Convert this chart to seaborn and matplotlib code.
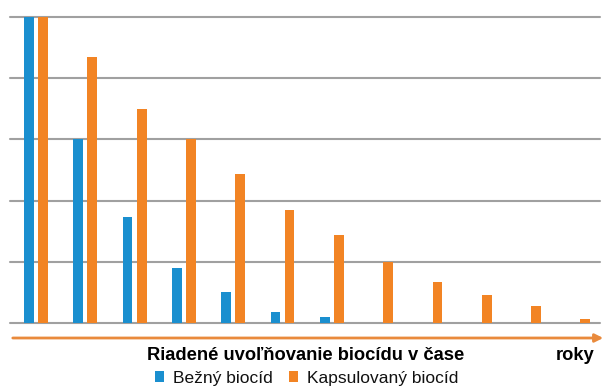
import matplotlib
matplotlib.use('Agg')
import matplotlib.pyplot as plt
import numpy as np
import pandas as pd
import seaborn as sns

# Values (percent of biocide still released)
years = list(range(1, 13))
bezny = [100, 60, 34.5, 18, 10, 3.6, 1.8, 0, 0, 0, 0, 0]
kapsulovany = [100, 87, 70, 60, 48.7, 36.8, 28.8, 20, 13.4, 9.3, 5.6, 1.3]
series_names = ['Bežný biocíd', 'Kapsulovaný biocíd']
colors = ['#1a8fcf', '#f28424']

df = pd.DataFrame({
    'rok': years * 2,
    'hodnota': bezny + kapsulovany,
    'typ': [series_names[0]] * len(years) + [series_names[1]] * len(years),
})

sns.set_style('white')
plt.rcParams['font.family'] = ['Liberation Sans', 'DejaVu Sans']

fig = plt.figure(figsize=(6.13, 3.91), dpi=100)
ax = fig.add_axes([10 / 613, 1 - 323 / 391, 590 / 613, 306 / 391])

sns.barplot(data=df, x='rok', y='hodnota', hue='typ', palette=colors,
            width=0.57, gap=0.3, ax=ax, saturation=1, linewidth=0)

ax.set_ylim(0, 100)
ax.set_xlim(-0.527, 11.44)
ax.set_yticks(np.arange(0, 101, 20), labels=[])
ax.yaxis.grid(True, color='#a0a0a0', linewidth=1.5)
ax.set_axisbelow(True)
for gl in ax.get_ygridlines():
    gl.set_clip_on(False)
for s in ax.spines.values():
    s.set_visible(False)
ax.set_xticks([])
ax.tick_params(length=0)
ax.set_xlabel('')
ax.set_ylabel('')

# time arrow under the bars
fig.add_artist(matplotlib.patches.FancyArrowPatch(
    (10 / 613, 1 - 338 / 391), (606 / 613, 1 - 338 / 391),
    transform=fig.transFigure, arrowstyle='-|>', mutation_scale=12,
    color='#e98a3c', linewidth=2))

fig.text(306 / 613, 1 - 355 / 391, 'Riadené uvoľňovanie biocídu v čase',
         ha='center', va='center', fontsize=13.2, fontweight='bold', color='#000000')
fig.text(575 / 613, 1 - 355 / 391, 'roky', ha='center', va='center',
         fontsize=13.2, fontweight='bold', color='#000000')

sns.move_legend(ax, 'center', bbox_to_anchor=(0.5, 1 - 378 / 391),
                bbox_transform=fig.transFigure, ncol=2, frameon=False, title=None,
                fontsize=12.5, handlelength=0.55, handleheight=0.55,
                handletextpad=0.5, columnspacing=0.9)
for t in ax.get_legend().get_texts():
    t.set_color('#111111')

fig.savefig('out.png', dpi=100)
